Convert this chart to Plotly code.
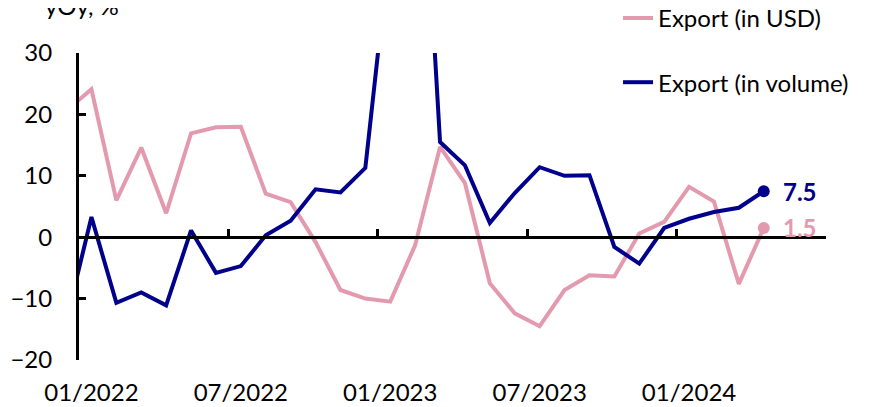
import plotly.graph_objects as go

# ---- data ----
months = ["12/2021",
          "01/2022", "02/2022", "03/2022", "04/2022", "05/2022", "06/2022",
          "07/2022", "08/2022", "09/2022", "10/2022", "11/2022", "12/2022",
          "01/2023", "02/2023", "03/2023", "04/2023", "05/2023", "06/2023",
          "07/2023", "08/2023", "09/2023", "10/2023", "11/2023", "12/2023",
          "01/2024", "02/2024", "03/2024", "04/2024"]
export_usd = [20.6, 24.1, 6.0, 14.6, 3.9, 16.9, 17.9, 18.0, 7.1, 5.7, -0.8, -8.6, -10.0,
              -10.5, -1.3, 14.7, 8.8, -7.5, -12.4, -14.5, -8.6, -6.2, -6.4, 0.6, 2.5,
              8.2, 5.8, -7.6, 1.5]
export_volume = [-13.5, 3.3, -10.7, -9.0, -11.1, 1.1, -5.8, -4.7, 0.3, 2.7, 7.8, 7.3, 11.3,
                 41.0, 85.0, 15.5, 11.7, 2.3, 7.2, 11.4, 10.0, 10.1, -1.6, -4.3, 1.5,
                 3.0, 4.1, 4.8, 7.5]
axis_months = ["01/2022", "07/2022", "01/2023", "07/2023", "01/2024"]
n_axis_categories = 30  # 01/2022 .. 06/2024
y_range = [-20, 30]

PINK = "#E39AAE"
NAVY = "#00008C"
FONT = "Lato"
FS = 24

# month index: 01/2022 -> 0
first = months.index("01/2022")
xs = [i - first for i in range(len(months))]
tickvals = [months.index(m) - first for m in axis_months]

fig = go.Figure()
fig.add_trace(go.Scatter(x=xs, y=export_usd, mode="lines", name="Export (in USD)",
                         line=dict(color=PINK, width=4), legendgroup="a"))
fig.add_trace(go.Scatter(x=xs, y=export_volume, mode="lines", name="Export (in volume)",
                         line=dict(color=NAVY, width=4), legendgroup="b"))
fig.add_trace(go.Scatter(x=[xs[-1]], y=[export_usd[-1]], mode="markers",
                         marker=dict(color=PINK, size=12), showlegend=False, cliponaxis=False))
fig.add_trace(go.Scatter(x=[xs[-1]], y=[export_volume[-1]], mode="markers",
                         marker=dict(color=NAVY, size=12), showlegend=False, cliponaxis=False))
# dummy trace so the zero-line axis is drawn
fig.add_trace(go.Scatter(x=[None], y=[None], xaxis="x2", showlegend=False, hoverinfo="skip"))

for vals, col in ((export_volume, NAVY), (export_usd, PINK)):
    fig.add_annotation(x=xs[-1], y=vals[-1], text=f"<b>{vals[-1]}</b>", showarrow=False,
                       xanchor="left", yanchor="middle", xshift=17,
                       font=dict(family=FONT, size=FS, color=col))

fig.add_annotation(xref="paper", yref="paper", x=-0.048, y=1.101, xanchor="left",
                   yanchor="bottom", text="yOy, %", showarrow=False,
                   font=dict(family=FONT, size=FS, color="black"))

zero_pos = (0 - y_range[0]) / (y_range[1] - y_range[0])
boundaries = [t - 0.5 for t in tickvals[1:]] + [n_axis_categories - 0.5]

fig.update_layout(
    width=872, height=407,
    margin=dict(l=71, r=54, t=45, b=55, autoexpand=False),
    paper_bgcolor="white", plot_bgcolor="white",
    font=dict(family=FONT, size=FS, color="black"),
    showlegend=True,
    legend=dict(x=0.7216, y=1.186, xanchor="left", yanchor="top",
                font=dict(family=FONT, size=FS, color="black"),
                tracegroupgap=30, bgcolor="rgba(0,0,0,0)"),
    xaxis=dict(range=[-0.5, n_axis_categories - 0.5], tickvals=tickvals, ticktext=axis_months,
               showgrid=False, zeroline=False, showline=False, ticks="", automargin=False,
               ticklabelstandoff=16, tickfont=dict(family=FONT, size=FS)),
    xaxis2=dict(range=[-0.5, n_axis_categories - 0.5], overlaying="x", anchor="free",
                position=zero_pos, side="bottom", tickvals=boundaries, ticks="inside",
                ticklen=7, tickwidth=3, tickcolor="black", showline=True, linewidth=3,
                linecolor="black", showticklabels=False, showgrid=False, zeroline=False,
                automargin=False),
    yaxis=dict(range=y_range, dtick=10, ticks="inside", ticklen=7, tickwidth=3,
               tickcolor="black", showline=True, linewidth=3, linecolor="black",
               showgrid=False, zeroline=False, ticklabelstandoff=19, automargin=False,
               tickfont=dict(family=FONT, size=FS)),
)

fig.write_html("out.html")
